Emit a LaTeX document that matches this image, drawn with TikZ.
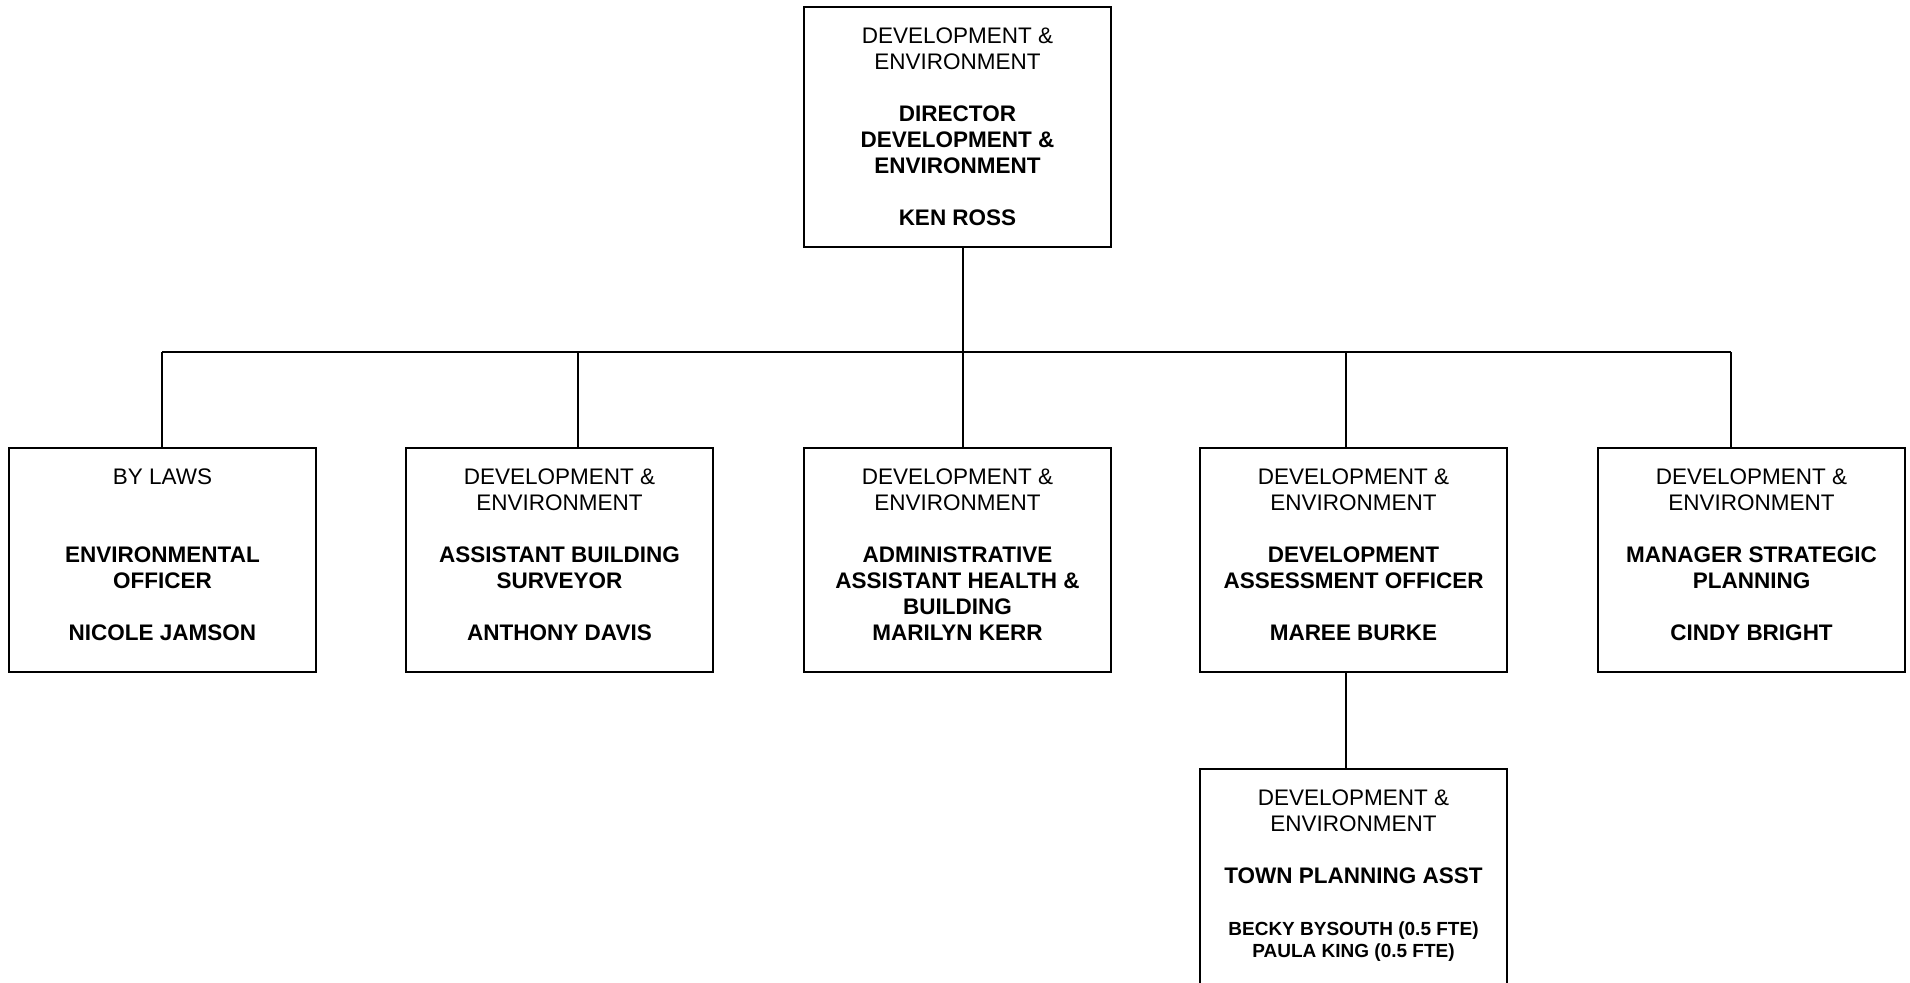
\documentclass[tikz,border=0pt]{standalone}
\usepackage{fontspec}
\setmainfont{Liberation Sans}

% Box content: fixed-height parbox, text hung from the top edge
\newcommand{\orgtext}[2]{%
  \parbox[c][#1][t]{307pt}{\centering\fontsize{22.5}{26}\selectfont
    \rule{0pt}{36pt}#2}}

\tikzset{
  orgbox/.style={draw, line width=2pt, rectangle, inner sep=0pt,
                 outer sep=0pt, anchor=north west},
  link/.style={line width=2pt},
}

\begin{document}
\begin{tikzpicture}[x=1pt, y=-1pt]
\useasboundingbox (0,0) rectangle (1910,982);
\clip (0,0) rectangle (1910,982);
\fill[white] (0,0) rectangle (1910,982);

% Director
\node[orgbox] (dir) at (804,7) {\orgtext{240pt}{DEVELOPMENT \&\\ENVIRONMENT\\[26pt]%
  {\bfseries DIRECTOR\\DEVELOPMENT \&\\ENVIRONMENT\\[26pt]KEN ROSS}}};

% Direct reports
\node[orgbox] (b1) at (9,448) {\orgtext{224pt}{BY LAWS\\[52pt]%
  {\bfseries ENVIRONMENTAL\\OFFICER\\[26pt]NICOLE JAMSON}}};
\node[orgbox] (b2) at (406,448) {\orgtext{224pt}{DEVELOPMENT \&\\ENVIRONMENT\\[26pt]%
  {\bfseries ASSISTANT BUILDING\\SURVEYOR\\[26pt]ANTHONY DAVIS}}};
\node[orgbox] (b3) at (804,448) {\orgtext{224pt}{DEVELOPMENT \&\\ENVIRONMENT\\[26pt]%
  {\bfseries ADMINISTRATIVE\\ASSISTANT HEALTH \&\\BUILDING\\MARILYN KERR}}};
\node[orgbox] (b4) at (1200,448) {\orgtext{224pt}{DEVELOPMENT \&\\ENVIRONMENT\\[26pt]%
  {\bfseries DEVELOPMENT\\ASSESSMENT OFFICER\\[26pt]MAREE BURKE}}};
\node[orgbox] (b5) at (1598,448) {\orgtext{224pt}{DEVELOPMENT \&\\ENVIRONMENT\\[26pt]%
  {\bfseries MANAGER STRATEGIC\\PLANNING\\[26pt]CINDY BRIGHT}}};

% Second level under development assessment
\node[orgbox] (b6) at (1200,769) {\orgtext{224pt}{DEVELOPMENT \&\\ENVIRONMENT\\[26pt]%
  {\bfseries TOWN PLANNING ASST\\[26pt]%
  {\fontsize{19}{26}\selectfont BECKY BYSOUTH (0.5 FTE)\\[-4pt]PAULA KING (0.5 FTE)}}}};

% Junctions on the distribution bar
\coordinate (j1) at (162,352);
\coordinate (j2) at (578,352);
\coordinate (j3) at (963,352);
\coordinate (j4) at (1346,352);
\coordinate (j5) at (1731,352);

% Connectors
\draw[link] (dir.south -| j3) -- (j3);
\draw[link] (j1) -- (j5);
\draw[link] (j1) -- (j1 |- b1.north);
\draw[link] (j2) -- (j2 |- b2.north);
\draw[link] (j3) -- (j3 |- b3.north);
\draw[link] (j4) -- (j4 |- b4.north);
\draw[link] (j5) -- (j5 |- b5.north);
\draw[link] (b4.south -| j4) -- (j4 |- b6.north);
\end{tikzpicture}
\end{document}
